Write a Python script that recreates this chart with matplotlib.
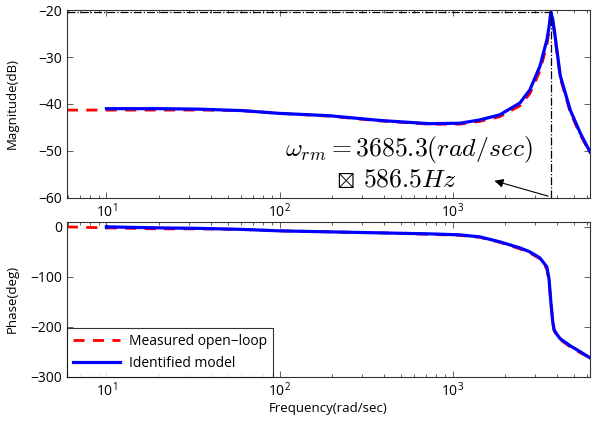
import numpy as np
import matplotlib.pyplot as plt
from matplotlib.ticker import LogLocator, NullFormatter

plt.rcParams['mathtext.fontset'] = 'cm'
plt.rcParams['font.family'] = ['Open Sans', 'DejaVu Sans']

# frequency points (rad/sec)
f_meas = [5.9, 10, 20, 34.5, 60, 100, 194, 378, 736, 1098, 1432, 1871, 2440,
          2787, 3184, 3494, 3600, 3685, 3780, 3850, 4010, 4178, 4771, 5452, 6200]
mag_meas = [-41.3, -41.3, -41.3, -41.3, -41.4, -42.0, -42.6, -43.6, -44.3, -44.3,
            -43.7, -42.7, -40.4, -37.8, -33.0, -27.5, -24.5, -21.0, -22.5, -24.5,
            -29.5, -34.5, -41.8, -46.6, -50.4]
ph_meas = [0, -2, -4, -4, -5, -8, -10, -12, -15, -17, -21, -31, -44, -52, -64,
           -84, -110, -150, -192, -208, -218, -226, -240, -252, -262]

f_id = [10, 20, 34.5, 60, 100, 194, 378, 736, 1098, 1432, 1871, 2440, 2787, 3184,
        3494, 3600, 3685, 3780, 3850, 4010, 4178, 4771, 5452, 6200]
mag_id = [-41.0, -41.0, -41.1, -41.4, -42.0, -42.5, -43.5, -44.2, -44.1, -43.4,
          -42.3, -39.8, -37.0, -32.0, -26.4, -23.5, -20.4, -22.0, -24.0, -29.0,
          -34.0, -41.3, -46.2, -50.2]
ph_id = [0, -2, -3, -5, -8, -10, -12, -14, -16, -20, -30, -42, -50, -62, -80,
         -105, -150, -190, -206, -216, -224, -238, -250, -262]
f_id_start = [10, 10]
ph_id_start = [2, -1]

w_rm = 3685.3
peak_db = -20.4

fig = plt.figure(figsize=(6.02, 4.21), dpi=100)
ax1 = fig.add_axes([0.111, 0.530, 0.869, 0.446])
ax2 = fig.add_axes([0.111, 0.105, 0.869, 0.368])

ax1.semilogx(f_meas, mag_meas, '--', color='red', lw=2, dashes=(4, 3))
ax1.semilogx(f_id, mag_id, '-', color='blue', lw=2.3)
ax1.plot([5.9, w_rm], [peak_db, peak_db], '-.', color='black', lw=0.9)
ax1.plot([w_rm, w_rm], [-60, peak_db], '-.', color='black', lw=0.9)
ax1.text(557, -49.6, r'$\omega_{rm}=3685.3(rad/sec)$', fontsize=18.5,
         ha='center', va='center')
ax1.text(240, -56.2, r'$\boxtimes$', fontsize=13, ha='center', va='center')
ax1.text(305, -56.2, r'$586.5Hz$', fontsize=18.5, ha='left', va='center')
ax1.annotate('', xy=(1680, -56.2), xytext=(w_rm, -59.8),
             arrowprops=dict(arrowstyle='-|>', color='black', lw=0.8,
                             mutation_scale=13))
ax1.set_ylim(-60, -20)
ax1.set_yticks([-60, -50, -40, -30, -20])
ax1.set_ylabel('Magnitude(dB)', fontsize=9.5)
ax1.yaxis.set_label_coords(-0.092, 0.5)

ax2.semilogx(f_meas, ph_meas, '--', color='red', lw=2, dashes=(4, 3),
             label='Measured open\u2212loop')
ax2.semilogx(f_id, ph_id, '-', color='blue', lw=2.3, label='Identified model')
ax2.plot(f_id_start, ph_id_start, '-', color='blue', lw=2.3)
ax2.set_ylim(-300, 10)
ax2.set_yticks([-300, -200, -100, 0])
ax2.set_ylabel('Phase(deg)', fontsize=9.5)
ax2.yaxis.set_label_coords(-0.092, 0.5)
ax2.set_xlabel('Frequency(rad/sec)', fontsize=9.5, labelpad=1)
leg = ax2.legend(loc='lower left', fontsize=10, frameon=True, fancybox=False,
                 edgecolor='black', borderaxespad=0, handlelength=3.4,
                 borderpad=0.45, labelspacing=0.45, handletextpad=0.6)
leg.get_frame().set_linewidth(0.8)

for ax in (ax1, ax2):
    ax.set_xlim(5.9, 6200)
    ax.xaxis.set_major_locator(LogLocator(base=10, numticks=10))
    ax.xaxis.set_minor_locator(LogLocator(base=10, subs=np.arange(2, 10), numticks=10))
    ax.xaxis.set_minor_formatter(NullFormatter())
    ax.tick_params(which='both', direction='in', top=True, right=True,
                   labelsize=10, width=0.6, color='#444444')
    ax.tick_params(which='major', length=4)
    ax.tick_params(which='minor', length=2)
    for s in ax.spines.values():
        s.set_linewidth(0.8)
        s.set_color('#333333')

fig.savefig('out.png', dpi=100)
